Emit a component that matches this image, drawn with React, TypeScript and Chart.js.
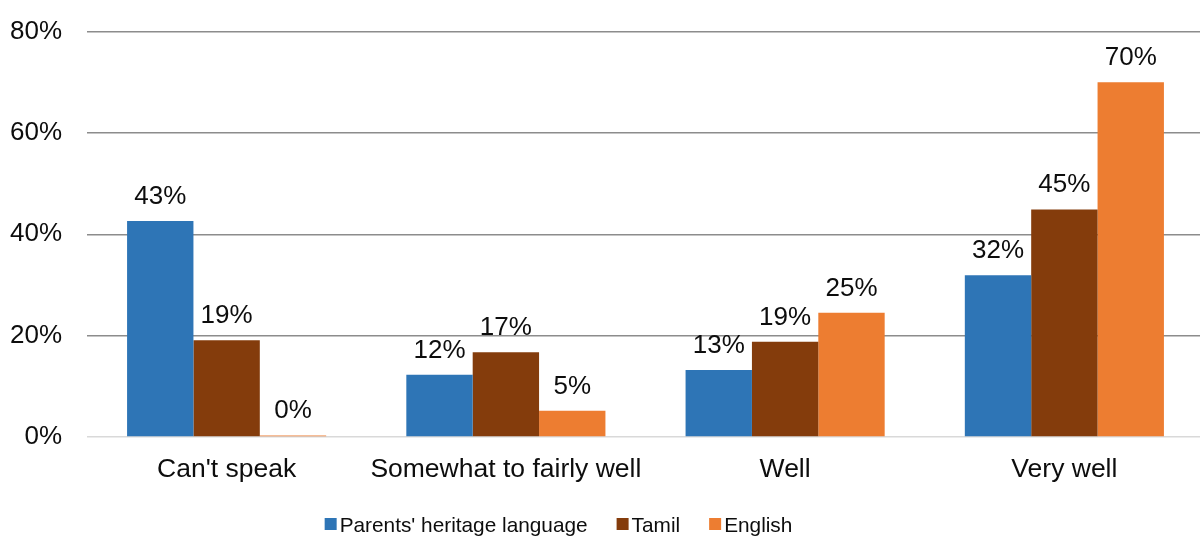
import React, { useEffect, useRef } from "react";
import { Chart, registerables } from "chart.js";

Chart.register(...registerables);

const categories = ["Can't speak", "Somewhat to fairly well", "Well", "Very well"];
const heritageValues = [42.6, 12.3, 13.2, 31.9];
const tamilValues = [19.1, 16.7, 18.8, 44.9];
const englishValues = [0.3, 5.2, 24.5, 70.0];
const seriesNames = ["Parents' heritage language", "Tamil", "English"];
const seriesColors = ["#2E75B6", "#843C0C", "#ED7D31"];
const yTicks = [0, 20, 40, 60, 80];

const FONT = '"Liberation Sans", Arial, sans-serif';

const dataLabelPlugin = {
  id: "dataLabels",
  afterDatasetsDraw(chart: any) {
    const ctx = chart.ctx;
    ctx.save();
    ctx.font = `26px ${FONT}`;
    ctx.fillStyle = "#0d0d0d";
    ctx.textAlign = "center";
    ctx.textBaseline = "alphabetic";
    chart.data.datasets.forEach((ds: any, i: number) => {
      const meta = chart.getDatasetMeta(i);
      meta.data.forEach((el: any, j: number) => {
        const v = ds.data[j];
        ctx.fillText(`${Math.round(v)}%`, el.x, el.y - 17);
      });
    });
    ctx.restore();
  },
};

const legendPlugin = {
  id: "customLegend",
  afterDraw(chart: any) {
    const ctx = chart.ctx;
    ctx.save();
    ctx.font = `20.8px ${FONT}`;
    ctx.textBaseline = "alphabetic";
    ctx.textAlign = "left";
    const box = 12;
    const gap = 3;
    const itemGap = 29;
    const items = chart.data.datasets.map((ds: any) => ({
      label: ds.label,
      color: ds.backgroundColor,
      w: ctx.measureText(ds.label).width,
    }));
    const total =
      items.reduce((s: number, it: any) => s + box + gap + it.w, 0) +
      itemGap * (items.length - 1);
    let x = 558.5 - total / 2;
    const baseY = chart.chartArea.bottom + 95;
    items.forEach((it: any) => {
      ctx.fillStyle = it.color;
      ctx.fillRect(x, baseY - 14, box, box);
      ctx.fillStyle = "#0d0d0d";
      ctx.fillText(it.label, x + box + gap, baseY);
      x += box + gap + it.w + itemGap;
    });
    ctx.restore();
  },
};

export default function App() {
  const ref = useRef<HTMLCanvasElement>(null);

  useEffect(() => {
    if (!ref.current) return;
    const values = [heritageValues, tamilValues, englishValues];
    const chart = new Chart(ref.current, {
      type: "bar",
      data: {
        labels: categories,
        datasets: seriesNames.map((name, i) => ({
          label: name,
          data: values[i],
          backgroundColor: seriesColors[i],
          borderWidth: 0,
          barPercentage: 1,
          categoryPercentage: 0.713,
        })),
      },
      options: {
        responsive: false,
        animation: false,
        layout: { padding: { top: 22, right: 0, left: 0, bottom: 61 } },
        plugins: {
          legend: { display: false },
          tooltip: { enabled: false },
        },
        scales: {
          x: {
            grid: { display: false },
            border: { display: false },
            ticks: {
              color: "#0d0d0d",
              font: { family: FONT, size: 26.5 },
              padding: 9,
              maxRotation: 0,
              autoSkip: false,
            },
            afterFit(scale: any) {
              scale.height = 50;
            },
          },
          y: {
            min: 0,
            max: 80,
            afterBuildTicks(scale: any) {
              scale.ticks = yTicks.map((v) => ({ value: v }));
            },
            grid: {
              drawTicks: false,
              color: (c: any) => (c.tick && c.tick.value === 0 ? "#d9d9d9" : "#8c8c8c"),
              lineWidth: 1.5,
            },
            border: { display: false },
            ticks: {
              color: "#0d0d0d",
              font: { family: FONT, size: 26 },
              padding: 25,
              callback: (v: any) => `${v}%`,
            },
            afterFit(scale: any) {
              scale.width = 87;
            },
          },
        },
      },
      plugins: [dataLabelPlugin, legendPlugin],
    });
    return () => chart.destroy();
  }, []);

  return (
    <div
      style={{
        position: "fixed",
        left: 0,
        top: 0,
        width: 1200,
        height: 536,
        overflow: "hidden",
        background: "#ffffff",
      }}
    >
      <canvas
        ref={ref}
        width={1204}
        height={557}
        style={{ display: "block", marginTop: -9 }}
      />
    </div>
  );
}
